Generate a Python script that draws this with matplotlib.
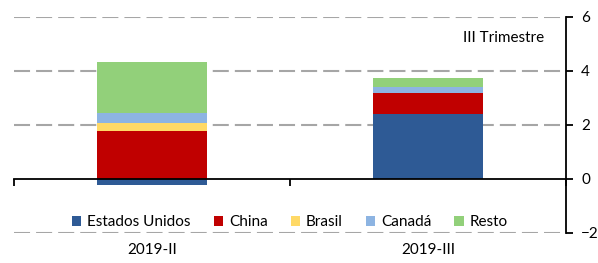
import matplotlib.pyplot as plt
import numpy as np

plt.rcParams['font.family'] = ['Lato', 'DejaVu Sans']

periods = ["2019-II", "2019-III"]
series = ["Estados Unidos", "China", "Brasil", "Canadá", "Resto"]
colors = ["#2E5A95", "#C00000", "#FFD966", "#8DB4E2", "#92D07A"]
estados_unidos = [-0.22, 2.40]
china = [1.78, 0.80]
brasil = [0.28, 0.00]
canada = [0.40, 0.20]
resto = [1.89, 0.34]
values = [estados_unidos, china, brasil, canada, resto]

fig = plt.figure(figsize=(5.98, 2.63), dpi=100)
ax = fig.add_axes([14/598, 1-233/263, (566-14)/598, (233-17)/263])

x = np.arange(len(periods))
pos = np.zeros(len(periods))
neg = np.zeros(len(periods))
for name, vals, c in zip(series, values, colors):
    vals = np.array(vals)
    base = np.where(vals >= 0, pos, neg)
    ax.bar(x, vals, width=0.4, bottom=base, color=c, label=name, zorder=3)
    pos = pos + np.clip(vals, 0, None)
    neg = neg + np.clip(vals, None, 0)

ax.set_xlim(-0.5, 1.5)
ax.set_ylim(-2, 6)
for yv in [-2, 2, 4, 6]:
    ax.axhline(yv, color="#A6A6A6", lw=1.5, dashes=(7.7, 2.9), zorder=1)

for s in ["top", "left"]:
    ax.spines[s].set_visible(False)
ax.spines["bottom"].set_position(("data", 0))
ax.spines["bottom"].set_zorder(4)
ax.spines["right"].set_linewidth(1.3)
ax.spines["bottom"].set_linewidth(1.3)
ax.yaxis.tick_right()
ax.set_yticks([-2, 0, 2, 4, 6])
ax.tick_params(axis="y", direction="out", length=5, width=1.3, labelsize=11, pad=6)
ax.set_xticks([-0.5, 0.5, 1.5])
ax.set_xticklabels([])
ax.tick_params(axis="x", direction="out", length=5, width=1.3)

for xi, lab in zip(x, periods):
    ax.text(xi, -0.08, lab, transform=ax.get_xaxis_transform(),
            ha="center", va="center", fontsize=11)

ax.text(0.96, 0.903, "III Trimestre", transform=ax.transAxes,
        ha="right", va="center", fontsize=11)

ax.legend(loc="center", bbox_to_anchor=(0.5, (-1.6 + 2) / 8), ncol=5,
          frameon=False, fontsize=11, handlelength=0.6, handleheight=0.6,
          handletextpad=0.4, columnspacing=1.5)

fig.savefig("out.png", dpi=100)
